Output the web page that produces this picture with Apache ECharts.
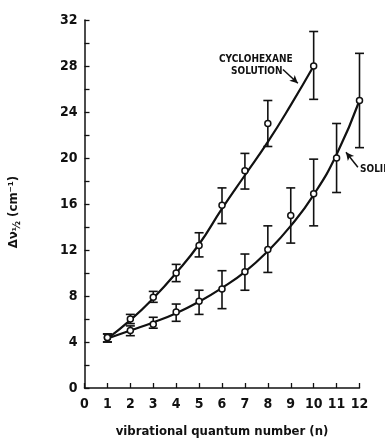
<!DOCTYPE html>
<html>
<head>
<meta charset="UTF-8">
<title>Linewidth vs vibrational quantum number</title>
<script src="https://cdn.jsdelivr.net/npm/echarts@6/dist/echarts.min.js"></script>
</head>
<body style="margin:0;background:#fff">
<div id="main" style="width:385px;height:438px"></div>
<script>
var cycloN = [1, 2, 3, 4, 5, 6, 7, 8, 10];
var cycloVal = [4.4, 6.0, 7.9, 10.0, 12.4, 15.9, 18.9, 23.0, 28.0];
var cycloLow = [4.0, 5.6, 7.45, 9.25, 11.4, 14.3, 17.3, 21.0, 25.1];
var cycloHigh = [4.7, 6.4, 8.4, 10.75, 13.5, 17.4, 20.4, 25.0, 31.0];

var solidN = [1, 2, 3, 4, 5, 6, 7, 8, 9, 10, 11, 12];
var solidVal = [4.4, 5.0, 5.55, 6.6, 7.55, 8.6, 10.1, 12.05, 15.0, 16.9, 20.0, 25.0];
var solidLow = [4.0, 4.55, 5.2, 5.8, 6.4, 6.9, 8.5, 10.05, 12.6, 14.1, 17.0, 20.9];
var solidHigh = [4.7, 5.4, 6.15, 7.3, 8.5, 10.2, 11.65, 14.1, 17.4, 19.9, 23.0, 29.1];

// fitted curves as drawn in the figure
var cycloCurveN = [1, 2, 3, 4, 5, 6, 7, 8, 9, 10];
var cycloCurve = [4.3, 5.9, 7.8, 10.0, 12.5, 15.6, 18.5, 21.4, 24.6, 28.0];
var solidCurveN = [1, 2, 3, 4, 5, 6, 7, 8, 9, 10, 11, 12];
var solidCurve = [4.3, 5.0, 5.7, 6.5, 7.5, 8.7, 10.1, 11.9, 14.1, 16.8, 20.3, 25.0];

var font = 'DejaVu Sans Condensed';
var ink = '#111';

function zip(xs, ys) {
    return xs.map(function (x, i) { return [x, ys[i]]; });
}
function bars(xs, lo, hi) {
    return xs.map(function (x, i) { return [x, lo[i], hi[i]]; });
}

function errorBar(params, api) {
    var x = api.value(0);
    var lo = api.coord([x, api.value(1)]);
    var hi = api.coord([x, api.value(2)]);
    var w = 4.5;
    var st = { stroke: ink, lineWidth: 1.6 };
    return {
        type: 'group',
        children: [
            { type: 'line', shape: { x1: lo[0], y1: lo[1], x2: hi[0], y2: hi[1] }, style: st },
            { type: 'line', shape: { x1: lo[0] - w, y1: lo[1], x2: lo[0] + w, y2: lo[1] }, style: st },
            { type: 'line', shape: { x1: hi[0] - w, y1: hi[1], x2: hi[0] + w, y2: hi[1] }, style: st }
        ]
    };
}

var chart = echarts.init(document.getElementById('main'));
chart.setOption({
    animation: false,
    grid: { left: 84.5, right: 25.5, top: 20, bottom: 50, containLabel: false, outerBoundsMode: 'none' },
    xAxis: {
        type: 'value', min: 0, max: 12, interval: 1,
        name: 'vibrational quantum number (n)',
        nameLocation: 'middle', nameGap: 37,
        nameTextStyle: { fontFamily: font, fontWeight: 'bold', fontSize: 13, color: ink },
        axisLine: { lineStyle: { color: ink, width: 1.5 } },
        axisTick: { inside: true, length: 5, lineStyle: { color: ink, width: 1.3 } },
        axisLabel: { fontFamily: font, fontWeight: 'bold', fontSize: 14, color: ink, margin: 9 },
        splitLine: { show: false }
    },
    yAxis: {
        type: 'value', min: 0, max: 32, interval: 2,
        name: '{a|Δν}{s|½}{a| (cm⁻¹)}',
        nameLocation: 'middle', nameGap: 62, nameRotate: 90,
        nameTextStyle: {
            padding: [0, 16, 0, 0],
            rich: {
                a: { fontFamily: font, fontWeight: 'bold', fontSize: 13, color: ink },
                s: { fontFamily: font, fontWeight: 'bold', fontSize: 11, color: ink, verticalAlign: 'bottom', padding: [6, 0, 0, 0] }
            }
        },
        axisLine: { show: true, lineStyle: { color: ink, width: 1.5 } },
        axisTick: { inside: true, length: 5, lineStyle: { color: ink, width: 1.3 } },
        axisLabel: {
            fontFamily: font, fontWeight: 'bold', fontSize: 14, color: ink, margin: 7,
            formatter: function (v) { return v % 4 === 0 ? String(v) : ''; }
        },
        splitLine: { show: false }
    },
    series: [
        {
            type: 'line', data: zip(cycloCurveN, cycloCurve), smooth: 0.5,
            showSymbol: false, lineStyle: { color: ink, width: 2.2 }, z: 2,
            markLine: {
                silent: true, symbol: ['none', 'arrow'], symbolSize: [6, 8],
                label: { show: false },
                lineStyle: { color: ink, width: 1.5, type: 'solid' },
                data: [[{ coord: [8.66, 27.7] }, { coord: [9.31, 26.5] }]]
            }
        },
        {
            type: 'line', data: zip(solidCurveN, solidCurve), smooth: 0.5,
            showSymbol: false, lineStyle: { color: ink, width: 2.2 }, z: 2,
            markLine: {
                silent: true, symbol: ['none', 'arrow'], symbolSize: [6, 8],
                label: { show: false },
                lineStyle: { color: ink, width: 1.5, type: 'solid' },
                data: [[{ coord: [11.93, 19.2] }, { coord: [11.41, 20.5] }]]
            }
        },
        { type: 'custom', renderItem: errorBar, data: bars(cycloN, cycloLow, cycloHigh), z: 3 },
        { type: 'custom', renderItem: errorBar, data: bars(solidN, solidLow, solidHigh), z: 3 },
        {
            type: 'scatter', data: zip(cycloN, cycloVal), symbol: 'circle', symbolSize: 6,
            itemStyle: { color: '#fff', borderColor: ink, borderWidth: 1.5, opacity: 1 }, z: 4
        },
        {
            type: 'scatter', data: zip(solidN, solidVal), symbol: 'circle', symbolSize: 6,
            itemStyle: { color: '#fff', borderColor: ink, borderWidth: 1.5, opacity: 1 }, z: 4
        }
    ],
    graphic: [
        {
            type: 'text', left: 219, top: 54,
            style: { text: 'CYCLOHEXANE', font: 'bold 10px "DejaVu Sans Condensed"', fill: ink }
        },
        {
            type: 'text', left: 231, top: 66,
            style: { text: 'SOLUTION', font: 'bold 10px "DejaVu Sans Condensed"', fill: ink }
        },
        {
            type: 'text', left: 360, top: 164,
            style: { text: 'SOLID', font: 'bold 10px "DejaVu Sans Condensed"', fill: ink }
        }
    ]
});
</script>
</body>
</html>
